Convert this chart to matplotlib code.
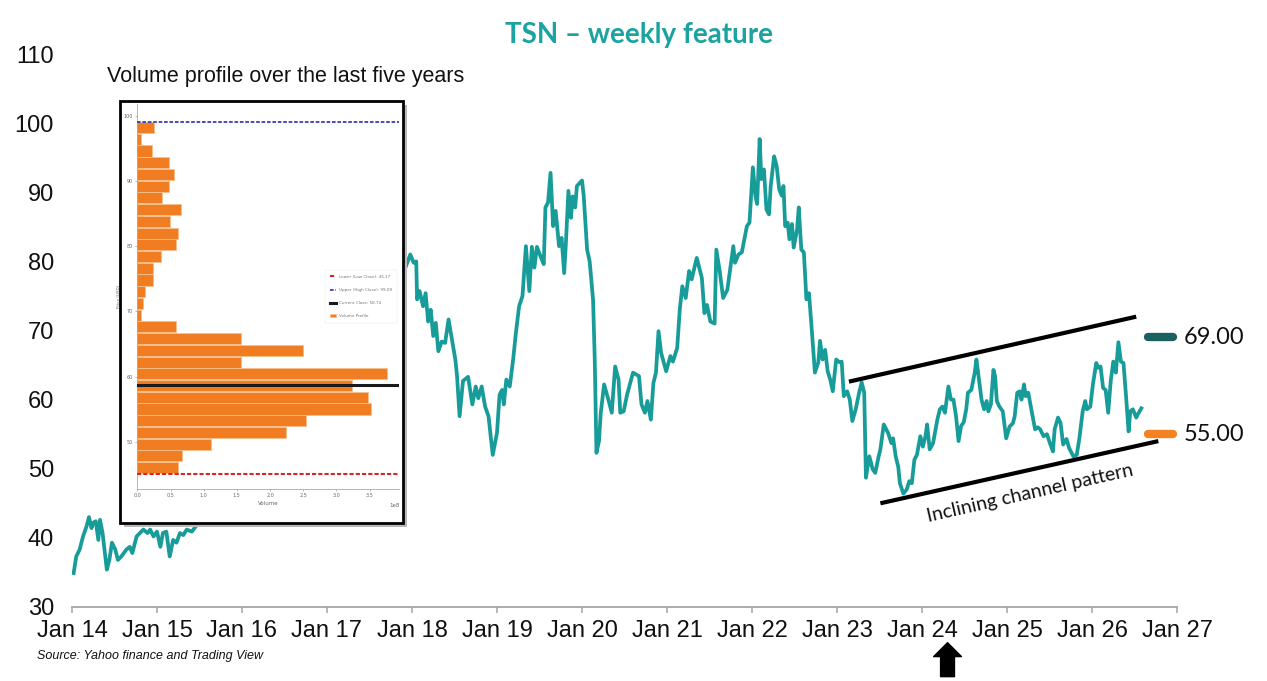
import numpy as np
import matplotlib
matplotlib.use("Agg")
import matplotlib.pyplot as plt
from matplotlib.patches import Rectangle

# weekly closing price (decimal years)
years = [
    2014.02, 2014.05, 2014.09, 2014.13, 2014.17, 2014.20, 2014.23, 2014.25, 2014.28, 2014.31,
    2014.33, 2014.36, 2014.41, 2014.44, 2014.47, 2014.51, 2014.54, 2014.58, 2014.64, 2014.68,
    2014.71, 2014.76, 2014.80, 2014.84, 2014.89, 2014.92, 2014.96, 2015.00, 2015.04, 2015.07,
    2015.11, 2015.15, 2015.19, 2015.23, 2015.27, 2015.31, 2015.35, 2015.41,
    # hidden behind the inset, rough guesses
    2015.60, 2015.90, 2016.20, 2016.50, 2016.65, 2016.90, 2017.20, 2017.50, 2017.75, 2017.92,
    2017.98, 2018.02, 2018.05, 2018.06, 2018.09, 2018.13, 2018.16, 2018.19, 2018.22, 2018.25,
    2018.28, 2018.31, 2018.35, 2018.39, 2018.43, 2018.47, 2018.51, 2018.53, 2018.56, 2018.60,
    2018.66, 2018.71, 2018.75, 2018.78, 2018.82, 2018.86, 2018.90, 2018.95, 2019.00, 2019.03,
    2019.06, 2019.08, 2019.11, 2019.15, 2019.19, 2019.22, 2019.26, 2019.30, 2019.34, 2019.38,
    2019.41, 2019.44, 2019.47, 2019.51, 2019.55, 2019.57, 2019.60, 2019.63, 2019.66, 2019.69,
    2019.73, 2019.76, 2019.79, 2019.81, 2019.84, 2019.87, 2019.89, 2019.92, 2019.94, 2020.00,
    2020.02, 2020.06, 2020.09, 2020.13, 2020.15, 2020.17, 2020.20, 2020.22, 2020.26, 2020.31,
    2020.35, 2020.39, 2020.43, 2020.45, 2020.49, 2020.53, 2020.60, 2020.67, 2020.70, 2020.74,
    2020.77, 2020.81, 2020.84, 2020.87, 2020.90, 2020.93, 2020.99, 2021.04, 2021.07, 2021.12,
    2021.15, 2021.18, 2021.22, 2021.26, 2021.29, 2021.35, 2021.41, 2021.44, 2021.47, 2021.51,
    2021.56, 2021.58, 2021.62, 2021.66, 2021.71, 2021.74, 2021.78, 2021.80, 2021.84, 2021.88,
    2021.94, 2021.97, 2022.01, 2022.04, 2022.06, 2022.09, 2022.11, 2022.14, 2022.17, 2022.20,
    2022.22, 2022.26, 2022.29, 2022.32, 2022.35, 2022.37, 2022.39, 2022.42, 2022.44, 2022.47,
    2022.49, 2022.53, 2022.55, 2022.58, 2022.61, 2022.64, 2022.67, 2022.70, 2022.74, 2022.78,
    2022.80, 2022.83, 2022.86, 2022.89, 2022.92, 2022.95, 2022.99, 2023.03, 2023.055, 2023.08,
    2023.12, 2023.15, 2023.18, 2023.22, 2023.26, 2023.29, 2023.32, 2023.34, 2023.38, 2023.42,
    2023.45, 2023.49, 2023.51, 2023.55, 2023.60, 2023.64, 2023.66, 2023.69, 2023.72, 2023.74,
    2023.78, 2023.82, 2023.85, 2023.88, 2023.91, 2023.94, 2023.98, 2024.01, 2024.04, 2024.06,
    2024.09, 2024.13, 2024.18, 2024.21, 2024.24, 2024.27, 2024.31, 2024.34, 2024.37, 2024.40,
    2024.43, 2024.46, 2024.49, 2024.52, 2024.54, 2024.58, 2024.62, 2024.64, 2024.67, 2024.70,
    2024.73, 2024.76, 2024.78, 2024.81, 2024.84, 2024.86, 2024.88, 2024.91, 2024.95, 2024.99,
    2025.03, 2025.07, 2025.09, 2025.12, 2025.15, 2025.17, 2025.20, 2025.22, 2025.25, 2025.29,
    2025.33, 2025.36, 2025.39, 2025.43, 2025.47, 2025.51, 2025.54, 2025.56, 2025.60, 2025.63,
    2025.66, 2025.70, 2025.73, 2025.78, 2025.82, 2025.85, 2025.89, 2025.92, 2025.94, 2025.98,
    2026.01, 2026.05, 2026.07, 2026.10, 2026.13, 2026.16, 2026.19, 2026.22, 2026.25, 2026.28,
    2026.31, 2026.34, 2026.37, 2026.40, 2026.43, 2026.45, 2026.48, 2026.52, 2026.54, 2026.58,
]
prices = [
    34.9, 37.3, 38.3, 40.2, 41.6, 43.0, 41.4, 42.2, 42.4, 39.7,
    42.6, 40.7, 35.4, 36.8, 39.3, 38.3, 36.8, 37.3, 38.3, 38.7,
    37.8, 40.2, 40.7, 41.2, 40.7, 41.2, 40.2, 40.9, 38.7, 40.7,
    40.9, 37.3, 39.7, 39.3, 40.7, 40.4, 41.2, 40.9,
    44.0, 52.0, 60.0, 68.0, 74.0, 58.0, 64.0, 68.0, 74.0, 79.0,
    81.0, 79.8, 80.0, 74.5, 75.7, 73.5, 75.4, 71.3, 73.0, 69.2,
    71.1, 67.0, 68.4, 68.2, 71.6, 68.7, 65.8, 63.4, 57.6, 62.7,
    63.3, 59.3, 61.9, 60.2, 61.9, 59.0, 57.6, 52.0, 55.2, 60.7,
    61.4, 59.3, 62.9, 61.9, 65.8, 69.4, 73.5, 75.0, 82.2, 75.7,
    82.1, 79.1, 82.1, 80.8, 79.6, 87.8, 88.5, 92.8, 85.1, 87.3,
    82.2, 83.4, 78.3, 82.5, 90.2, 86.3, 89.4, 87.8, 90.9, 91.7,
    89.5, 81.7, 80.0, 74.5, 65.8, 52.3, 54.0, 58.0, 62.2, 60.0,
    58.1, 64.8, 62.9, 58.1, 58.3, 60.7, 63.9, 63.4, 59.3, 58.1,
    59.8, 57.1, 62.4, 63.9, 69.9, 66.8, 64.1, 66.3, 65.5, 67.5,
    73.0, 76.4, 74.7, 78.6, 77.4, 80.5, 77.6, 72.5, 73.7, 71.3,
    71.0, 81.7, 78.6, 74.7, 75.9, 78.6, 82.2, 79.8, 81.0, 81.3,
    85.1, 85.6, 93.6, 89.5, 88.3, 97.7, 91.9, 93.3, 87.5, 86.8,
    90.9, 95.2, 93.8, 90.4, 89.5, 90.9, 85.1, 85.6, 83.2, 85.4,
    82.0, 84.6, 87.8, 81.7, 81.3, 74.5, 75.4, 70.6, 63.9, 65.4,
    68.5, 65.8, 67.2, 64.1, 62.9, 61.2, 65.8, 65.4, 65.5, 60.5,
    61.2, 60.0, 56.9, 58.6, 61.0, 62.5, 61.0, 48.7, 51.8, 49.9,
    49.4, 51.8, 52.8, 56.4, 55.2, 53.7, 54.4, 51.8, 50.3, 47.9,
    46.4, 47.0, 48.2, 47.9, 51.3, 52.0, 54.7, 53.2, 54.7, 56.4,
    52.8, 53.7, 57.1, 58.6, 59.0, 58.1, 61.9, 60.0, 60.0, 57.6,
    54.0, 56.2, 56.7, 58.6, 61.0, 61.4, 63.9, 65.8, 62.9, 60.0,
    58.6, 59.8, 58.3, 59.3, 64.3, 63.4, 59.8, 59.0, 58.3, 54.4,
    56.1, 56.6, 57.6, 61.0, 61.2, 60.0, 62.2, 60.5, 61.0, 58.3,
    55.7, 56.0, 55.7, 54.7, 55.0, 53.5, 52.5, 55.7, 57.4, 56.6,
    53.5, 54.3, 53.0, 51.8, 52.0, 54.3, 58.3, 59.8, 58.6, 59.0,
    62.2, 65.3, 64.6, 64.8, 61.7, 61.4, 58.1, 62.7, 65.5, 63.9,
    68.3, 65.5, 65.3, 60.5, 55.4, 58.3, 58.6, 57.4, 57.9, 58.74,
]

# channel lines (start / end)
upper_x = [2023.14, 2026.52]
upper_y = [62.6, 72.0]
lower_x = [2023.51, 2026.78]
lower_y = [45.0, 54.0]

levels = [69.00, 55.00]
level_colors = ["#1b5f5e", "#f58220"]

tick_years = list(range(2014, 2028))
tick_labels = ["Jan %02d" % (y % 100) for y in tick_years]

# volume profile of the last five years (inset)
vp_low, vp_high, vp_close = 45.17, 99.09, 58.74
vp_volume = [0.62, 0.67, 1.11, 2.24, 2.54, 3.52, 3.48, 3.23, 3.76, 1.57,
             2.49, 1.57, 0.59, 0.05, 0.09, 0.11, 0.23, 0.24, 0.36, 0.59,
             0.61, 0.49, 0.66, 0.37, 0.48, 0.56, 0.48, 0.22, 0.05, 0.25]

teal = "#179c99"

fig = plt.figure(figsize=(12.67, 6.81), dpi=100)
ax = fig.add_axes([0.0568, 0.1087, 0.8722, 0.812])

ax.plot(years, prices, color=teal, lw=2.7, solid_joinstyle="round", zorder=3)
ax.plot(upper_x, upper_y, color="black", lw=3, solid_capstyle="butt", zorder=4)
ax.plot(lower_x, lower_y, color="black", lw=3, solid_capstyle="butt", zorder=4)

for lv, c in zip(levels, level_colors):
    ax.plot([2026.66, 2026.95], [lv, lv], color=c, lw=6, solid_capstyle="round",
            clip_on=False, zorder=5)
    ax.text(2027.08, lv, "%.2f" % lv, fontsize=17, family="Lato", va="center",
            ha="left", color="#111111", clip_on=False)

ax.text(2025.27, 46.5, "Inclining channel pattern", fontsize=14, family="Lato",
        rotation=12.8, rotation_mode="anchor", ha="center", va="center", color="#111111")

ax.set_xlim(2014, 2027)
ax.set_ylim(30, 110)
ax.set_xticks(tick_years)
ax.set_xticklabels(tick_labels)
ax.set_yticks(range(30, 111, 10))
for s in ["left", "right", "top"]:
    ax.spines[s].set_visible(False)
ax.spines["bottom"].set_color("#a6a6a6")
ax.spines["bottom"].set_linewidth(1.3)
ax.tick_params(axis="x", length=4.5, width=1.1, color="#a6a6a6", pad=5,
               labelsize=17, labelcolor="#111111")
ax.tick_params(axis="y", length=0, pad=13, labelsize=17, labelcolor="#111111")
for lab in ax.get_xticklabels() + ax.get_yticklabels():
    lab.set_family("Liberation Sans")

# up arrow below Jan 24
ax.annotate("", xy=(2024.3, -0.0646), xytext=(2024.3, -0.126),
            xycoords=("data", "axes fraction"), textcoords=("data", "axes fraction"),
            arrowprops=dict(arrowstyle="simple,head_width=1.0,head_length=0.5,tail_width=0.5",
                            color="black", mutation_scale=20, shrinkA=0, shrinkB=0),
            annotation_clip=False)

fig.text(0.504, 0.948, "TSN \u2013 weekly feature", fontsize=20, family="Lato",
         weight="bold", color="#1aa3a0", ha="center", va="center")
fig.text(0.0845, 0.888, "Volume profile over the last five years", fontsize=15.5,
         family="Liberation Sans", ha="left", va="center", color="#111111")
fig.text(0.029, 0.037, "Source: Yahoo finance and Trading View", fontsize=9,
         family="Liberation Sans", style="italic", ha="left", va="center", color="#111111")

# inset frame with shadow
fig.add_artist(Rectangle((0.0978, 0.226), 0.2237, 0.6203, transform=fig.transFigure,
                         facecolor="#b8b8b8", edgecolor="none", zorder=2))
fig.add_artist(Rectangle((0.0947, 0.232), 0.2237, 0.6197, transform=fig.transFigure,
                         facecolor="white", edgecolor="black", lw=2, zorder=2.5))

ins = fig.add_axes([0.1084, 0.2815, 0.2068, 0.5658], zorder=3)
edges = np.linspace(vp_low, vp_high, len(vp_volume) + 1)
centers = (edges[:-1] + edges[1:]) / 2
vols = np.array(vp_volume) * 1e8
ins.axhline(vp_low, color="#d62728", ls=(0, (2, 1)), lw=1.5, label="Lower (Low Close): 45.17", zorder=3)
ins.axhline(vp_high, color="#3b3bb5", ls=(0, (2, 1)), lw=1.3, label="Upper (High Close): 99.09", zorder=3)
ins.axhline(vp_close, color="#1a1a1a", lw=2.2, label="Current Close: 58.74", zorder=3)
ins.barh(centers, vols, height=(edges[1] - edges[0]) * 0.95, color="#f07d22",
         edgecolor="#f6c08a", lw=0.6, label="Volume Profile", zorder=2)
ins.set_xlim(0, 3.95e8)
ins.set_ylim(42.75, 101.8)
ins.set_xticks(np.arange(0, 3.6e8, 0.5e8))
ins.set_yticks(range(50, 101, 10))
ins.tick_params(labelsize=3.5, length=1.5, width=0.4, color="#888888", labelcolor="#666666", pad=1.5)
ins.xaxis.get_offset_text().set_fontsize(4)
ins.xaxis.get_offset_text().set_color("#666666")
ins.set_xlabel("Volume", fontsize=4, color="#666666", labelpad=2)
ins.set_ylabel("Price (USD)", fontsize=3, color="#666666", labelpad=2)
for s in ["top", "right"]:
    ins.spines[s].set_visible(False)
for s in ["left", "bottom"]:
    ins.spines[s].set_color("#999999")
    ins.spines[s].set_linewidth(0.5)
leg = ins.legend(loc="center right", bbox_to_anchor=(1.0, 0.5), fontsize=3,
                 frameon=True, handlelength=1.5, labelspacing=2.2, borderpad=1.2)
leg.get_frame().set_linewidth(0.3)
leg.get_frame().set_edgecolor("#dddddd")
for t in leg.get_texts():
    t.set_color("#777777")

fig.savefig("out.png", dpi=100)
